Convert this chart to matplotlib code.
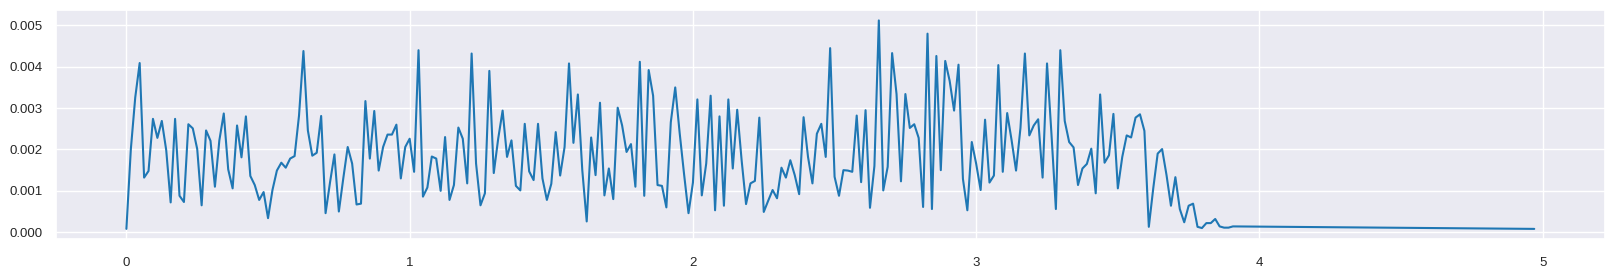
import numpy as np
import matplotlib
matplotlib.use('Agg')
import matplotlib.pyplot as plt
import seaborn as sns

# spectrum amplitudes, in units of 1e-3, bin width 1/64
bin_width = 1 / 64
amp_milli = [
    0.08, 2.0, 3.26, 4.09, 1.32, 1.48, 2.74, 2.28, 2.69, 1.98,
    0.72, 2.74, 0.88, 0.73, 2.61, 2.51, 2.01, 0.65, 2.46, 2.21,
    1.10, 2.22, 2.87, 1.52, 1.06, 2.58, 1.81, 2.80, 1.36, 1.14,
    0.78, 0.97, 0.34, 1.02, 1.49, 1.68, 1.56, 1.78, 1.84, 2.82,
    4.38, 2.46, 1.85, 1.92, 2.81, 0.46, 1.2,
    1.88, 0.50, 1.3, 2.06, 1.66, 0.67, 0.69, 3.17, 1.78, 2.93,
    1.49, 2.06, 2.36, 2.36, 2.60, 1.30, 2.06, 2.26, 1.46, 4.40,
    0.86, 1.08, 1.83, 1.78, 1.00, 2.30, 0.78, 1.14, 2.53, 2.26,
    1.18, 4.32, 1.66, 0.65, 0.94, 3.90, 1.43, 2.26, 2.94, 1.82,
    2.22, 1.12, 1.01, 2.62, 1.47, 1.26, 2.62, 1.30, 0.78, 1.17,
    2.42, 1.37, 2.06, 4.08, 2.16, 3.33, 1.5, 0.26, 2.29, 1.38,
    3.13, 0.89, 1.54, 0.80, 3.01, 2.58, 1.94, 2.13, 1.10, 4.12,
    0.88, 3.92, 3.30, 1.14, 1.12, 0.60, 2.66, 3.50, 2.4, 1.4,
    0.46, 1.2, 3.21, 0.89, 1.66, 3.30, 0.53, 2.80, 0.64, 3.21,
    1.54, 2.96, 1.74, 0.68, 1.18, 1.24, 2.77, 0.49, 0.76, 1.02,
    0.82, 1.56, 1.32, 1.74, 1.38, 0.92, 2.78, 1.82, 1.18, 2.38,
    2.62, 1.82, 4.45, 1.34, 0.88, 1.50, 1.49, 1.46, 2.82, 1.21,
    2.95, 0.59, 1.6, 5.12, 1.01, 1.58, 4.33, 3.34, 1.23, 3.34,
    2.52, 2.61, 2.28, 0.61, 4.80, 0.56, 4.26, 1.50, 4.14, 3.66,
    2.94, 4.05, 1.29, 0.53, 2.18, 1.65, 1.02, 2.72, 1.20, 1.37,
    4.04, 1.46, 2.88, 2.22, 1.49, 2.52, 4.32, 2.34, 2.58, 2.73,
    1.32, 4.08, 2.38, 0.56, 4.40, 2.69, 2.18, 2.05, 1.14, 1.54,
    1.65, 2.02, 0.94, 3.33, 1.68, 1.86, 2.86, 1.06, 1.82, 2.34,
    2.29, 2.77, 2.85, 2.45, 0.13, 1.06, 1.90, 2.01, 1.38, 0.64,
    1.33, 0.56, 0.24, 0.64, 0.69, 0.13, 0.10, 0.22, 0.22, 0.32,
    0.14, 0.11, 0.11, 0.14,
]
# the last sample sits far out on its own
last_freq = 4.97
last_amp_milli = 0.08

freq = np.append(np.arange(len(amp_milli)) * bin_width, last_freq)
amp = np.append(np.array(amp_milli), last_amp_milli) * 1e-3

sns.set_theme(style='darkgrid')
plt.rcParams['font.family'] = ['Liberation Sans', 'DejaVu Sans']
plt.rcParams['xtick.labelsize'] = 9.5
plt.rcParams['ytick.labelsize'] = 9.5

fig, ax = plt.subplots(figsize=(16.14, 2.74), dpi=100)
fig.subplots_adjust(left=0.0347, right=0.9942, top=0.9635, bottom=0.1266)

ax.plot(freq, amp, color='#1f77b4', linewidth=1.5)
ax.tick_params(axis='x', pad=7)

plt.savefig('out.png', dpi=100)
plt.close()
